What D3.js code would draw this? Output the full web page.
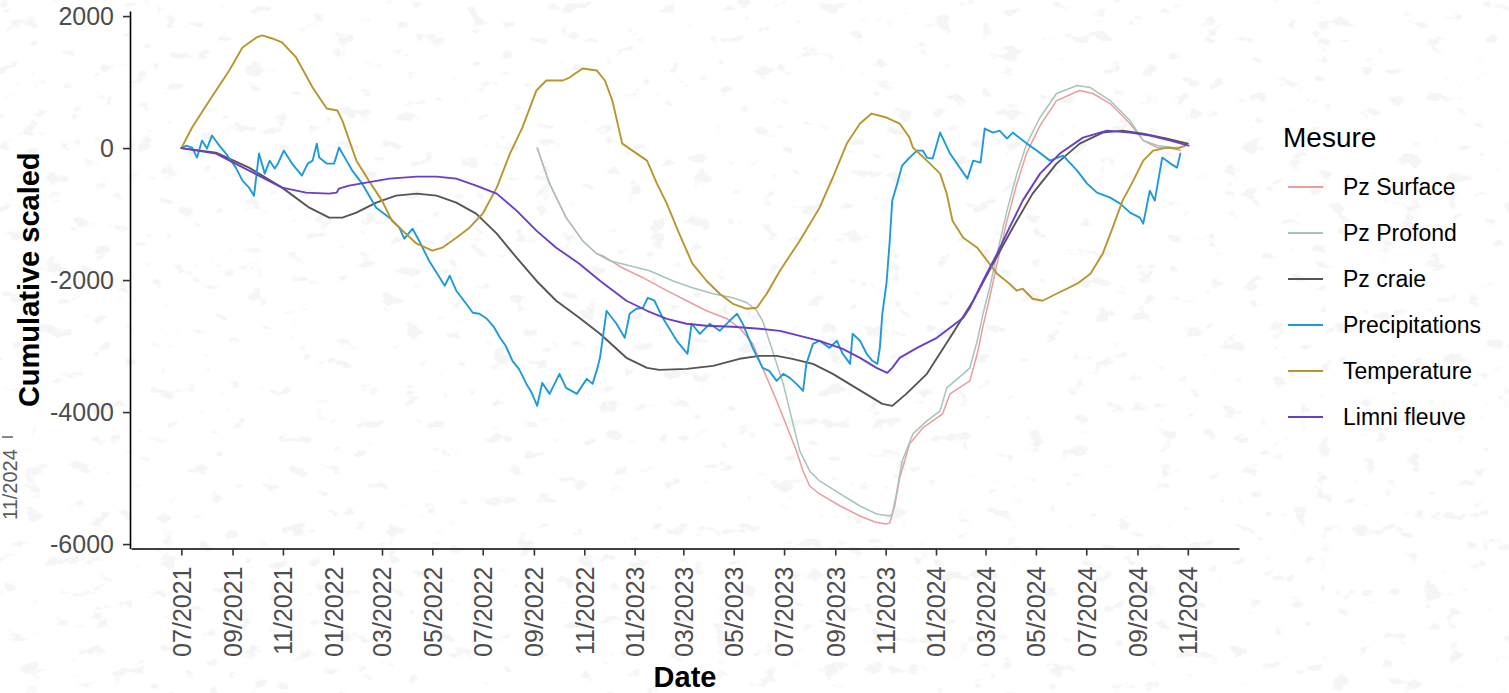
<!DOCTYPE html>
<html>
<head>
<meta charset="utf-8">
<script src="https://cdn.jsdelivr.net/npm/d3@7"></script>
<style>
  html, body { margin: 0; padding: 0; background: #ffffff; }
  svg { display: block; font-family: "Liberation Sans", Arial, Helvetica, sans-serif; }
</style>
</head>
<body>
<svg id="chart" width="1509" height="693"></svg>
<script>
// ---- Series (legend order = drawing order) ----
const seriesNames  = ["Pz Surface", "Pz Profond", "Pz craie", "Precipitations", "Temperature", "Limni fleuve"];
const seriesColors = ["#e99d9d", "#a5c4bc", "#555555", "#1f9ad9", "#b8962e", "#6a3fc6"];

// ---- Axis ticks ----
const xTickLabels = ["07/2021","09/2021","11/2021","01/2022","03/2022","05/2022","07/2022","09/2022",
  "11/2022","01/2023","03/2023","05/2023","07/2023","09/2023","11/2023","01/2024","03/2024",
  "05/2024","07/2024","09/2024","11/2024"];
const yTickValues = [2000, 0, -2000, -4000, -6000];

// ---- Cumulative scaled values, [date, value] ----
const pzSurface = [
  ["2022-09-05",0],["2022-09-20",-539],["2022-10-10",-1054],["2022-10-30",-1403],["2022-11-16",-1600],
  ["2022-11-23",-1631],["2022-12-17",-1813],["2023-01-11",-1964],["2023-02-09",-2161],["2023-03-05",-2313],
  ["2023-03-29",-2465],["2023-04-23",-2587],["2023-05-08",-2723],["2023-05-24",-2966],["2023-06-05",-3330],
  ["2023-06-22",-3830],["2023-07-08",-4331],["2023-07-16",-4589],["2023-07-24",-4892],["2023-08-01",-5120],
  ["2023-08-13",-5241],["2023-09-07",-5423],["2023-10-01",-5575],["2023-10-19",-5666],["2023-11-01",-5697],
  ["2023-11-06",-5681],["2023-11-12",-5423],["2023-11-18",-4998],["2023-11-30",-4482],["2023-12-16",-4240],
  ["2024-01-09",-4027],["2024-01-18",-3724],["2024-02-11",-3527],["2024-02-20",-3117],["2024-02-27",-2693],
  ["2024-03-06",-2268],["2024-03-15",-1752],["2024-03-27",-1100],["2024-04-08",-539],["2024-04-20",-68],
  ["2024-05-06",341],["2024-05-26",720],["2024-06-23",872],["2024-07-09",827],["2024-07-30",675],
  ["2024-08-23",372],["2024-09-08",114],["2024-09-25",8],["2024-10-14",-8],["2024-10-23",-38]
];

const pzProfond = [
  ["2022-09-05",0],["2022-09-20",-539],["2022-10-10",-1054],["2022-10-30",-1403],["2022-11-16",-1600],
  ["2022-12-02",-1707],["2022-12-26",-1782],["2023-01-19",-1858],["2023-02-16",-2010],["2023-03-12",-2116],
  ["2023-04-06",-2207],["2023-04-30",-2268],["2023-05-17",-2344],["2023-05-29",-2465],["2023-06-05",-2617],
  ["2023-06-17",-3072],["2023-06-30",-3573],["2023-07-11",-4134],["2023-07-20",-4589],["2023-08-01",-4892],
  ["2023-08-13",-5044],["2023-09-07",-5241],["2023-10-01",-5423],["2023-10-21",-5545],["2023-11-06",-5575],
  ["2023-11-09",-5545],["2023-11-14",-5241],["2023-11-21",-4740],["2023-12-04",-4331],["2023-12-21",-4134],
  ["2024-01-06",-3982],["2024-01-14",-3633],["2024-02-03",-3421],["2024-02-11",-3330],["2024-02-20",-2920],
  ["2024-02-27",-2511],["2024-03-06",-2116],["2024-03-15",-1600],["2024-03-27",-948],["2024-04-08",-387],
  ["2024-04-20",68],["2024-05-06",463],["2024-05-26",827],["2024-06-20",948],["2024-07-06",918],
  ["2024-07-30",720],["2024-08-23",417],["2024-09-08",114],["2024-09-25",38],["2024-10-14",8],["2024-10-23",8]
];

const pzCraie = [
  ["2021-07-01",0],["2021-08-12",-68],["2021-09-21",-296],["2021-10-31",-599],["2021-12-03",-903],
  ["2021-12-27",-1054],["2022-01-12",-1054],["2022-01-29",-978],["2022-02-22",-827],["2022-03-18",-721],
  ["2022-04-12",-690],["2022-05-06",-721],["2022-05-30",-827],["2022-06-23",-994],["2022-07-18",-1297],
  ["2022-08-11",-1661],["2022-09-04",-2010],["2022-09-28",-2313],["2022-10-26",-2572],["2022-11-20",-2814],
  ["2022-12-22",-3178],["2023-01-16",-3330],["2023-01-31",-3360],["2023-03-05",-3345],["2023-04-06",-3300],
  ["2023-05-08",-3193],["2023-06-01",-3148],["2023-06-22",-3148],["2023-07-11",-3193],["2023-08-05",-3269],
  ["2023-08-29",-3421],["2023-09-22",-3603],["2023-10-16",-3785],["2023-10-28",-3876],["2023-11-09",-3906],
  ["2023-11-26",-3724],["2023-12-21",-3421],["2024-01-21",-2814],["2024-02-15",-2313],["2024-03-10",-1752],
  ["2024-04-03",-1206],["2024-04-27",-690],["2024-05-26",-235],["2024-06-23",68],["2024-07-21",235],
  ["2024-08-14",265],["2024-09-08",220],["2024-10-07",144],["2024-11-01",68]
];

const precipitations = [
  ["2021-07-01",0],["2021-07-07",38],["2021-07-14",8],["2021-07-20",-144],["2021-07-26",114],
  ["2021-08-01",-8],["2021-08-07",190],["2021-08-16",38],["2021-08-24",-83],["2021-09-05",-296],
  ["2021-09-13",-493],["2021-09-21",-599],["2021-09-27",-721],["2021-10-03",-83],["2021-10-10",-387],
  ["2021-10-16",-190],["2021-10-22",-311],["2021-10-26",-235],["2021-11-02",-38],["2021-11-12",-235],
  ["2021-11-24",-417],["2021-12-01",-235],["2021-12-07",-190],["2021-12-12",68],["2021-12-15",-144],
  ["2021-12-24",-235],["2022-01-02",-235],["2022-01-08",8],["2022-01-17",-190],["2022-01-24",-341],
  ["2022-02-05",-539],["2022-02-22",-903],["2022-03-10",-1054],["2022-03-22",-1206],["2022-03-28",-1373],
  ["2022-04-07",-1221],["2022-04-15",-1403],["2022-04-27",-1707],["2022-05-10",-1964],["2022-05-16",-2086],
  ["2022-05-22",-1934],["2022-05-30",-2161],["2022-06-11",-2359],["2022-06-19",-2496],["2022-06-27",-2511],
  ["2022-07-06",-2587],["2022-07-14",-2700],["2022-07-22",-2875],["2022-07-29",-3000],["2022-08-06",-3223],
  ["2022-08-14",-3350],["2022-08-23",-3573],["2022-08-29",-3700],["2022-09-05",-3906],["2022-09-11",-3557],
  ["2022-09-20",-3724],["2022-10-02",-3421],["2022-10-10",-3633],["2022-10-23",-3724],["2022-11-04",-3497],
  ["2022-11-11",-3573],["2022-11-17",-3330],["2022-11-20",-3178],["2022-11-28",-2465],["2022-12-10",-2662],
  ["2022-12-20",-2875],["2022-12-26",-2511],["2023-01-03",-2435],["2023-01-11",-2420],["2023-01-17",-2268],
  ["2023-01-25",-2313],["2023-02-04",-2572],["2023-02-21",-2920],["2023-03-06",-3117],["2023-03-11",-2662],
  ["2023-03-21",-2814],["2023-04-02",-2662],["2023-04-14",-2769],["2023-04-26",-2617],["2023-05-05",-2511],
  ["2023-05-12",-2662],["2023-05-24",-3027],["2023-06-05",-3330],["2023-06-13",-3375],["2023-06-22",-3527],
  ["2023-06-30",-3421],["2023-07-08",-3482],["2023-07-16",-3573],["2023-07-24",-3679],["2023-07-28",-3269],
  ["2023-08-05",-2966],["2023-08-13",-2920],["2023-08-25",-3027],["2023-09-03",-2920],["2023-09-10",-3117],
  ["2023-09-19",-3269],["2023-09-22",-2814],["2023-10-01",-2920],["2023-10-09",-3117],["2023-10-16",-3223],
  ["2023-10-22",-3269],["2023-10-25",-3027],["2023-10-28",-2511],["2023-11-02",-2055],["2023-11-06",-1403],
  ["2023-11-09",-796],["2023-11-15",-539],["2023-11-21",-265],["2023-11-30",-144],["2023-12-09",-38],
  ["2023-12-16",-38],["2023-12-21",-144],["2023-12-28",-159],["2024-01-06",235],["2024-01-18",-83],
  ["2024-02-08",-463],["2024-02-15",-190],["2024-02-24",-220],["2024-02-29",296],["2024-03-10",235],
  ["2024-03-18",265],["2024-03-27",144],["2024-04-03",235],["2024-04-20",68],["2024-05-02",-38],
  ["2024-05-18",-190],["2024-06-03",-114],["2024-06-20",-341],["2024-07-02",-539],["2024-07-14",-675],
  ["2024-07-30",-751],["2024-08-11",-842],["2024-08-23",-978],["2024-09-04",-1054],["2024-09-08",-1145],
  ["2024-09-16",-645],["2024-09-22",-796],["2024-10-01",-144],["2024-10-11",-235],["2024-10-19",-296],
  ["2024-10-23",-83]
];

const temperature = [
  ["2021-07-01",0],["2021-07-14",311],["2021-08-04",720],["2021-08-28",1176],["2021-09-13",1525],
  ["2021-09-30",1676],["2021-10-07",1707],["2021-10-19",1661],["2021-10-31",1600],["2021-11-17",1373],
  ["2021-12-07",918],["2021-12-24",599],["2022-01-06",569],["2022-01-12",417],["2022-01-29",-190],
  ["2022-02-13",-493],["2022-03-01",-796],["2022-03-13",-1100],["2022-03-30",-1297],["2022-04-12",-1449],
  ["2022-05-01",-1555],["2022-05-13",-1509],["2022-05-30",-1358],["2022-06-15",-1206],["2022-07-01",-994],
  ["2022-07-18",-599],["2022-08-03",-83],["2022-08-18",311],["2022-09-04",872],["2022-09-16",1024],
  ["2022-10-06",1024],["2022-10-14",1069],["2022-10-30",1206],["2022-11-16",1176],["2022-11-26",1024],
  ["2022-12-05",720],["2022-12-17",68],["2023-01-16",-190],["2023-01-28",-539],["2023-02-09",-842],
  ["2023-02-24",-1297],["2023-03-12",-1752],["2023-03-29",-2010],["2023-04-14",-2207],["2023-04-30",-2359],
  ["2023-05-17",-2435],["2023-05-29",-2420],["2023-06-10",-2207],["2023-06-26",-1858],["2023-07-20",-1403],
  ["2023-08-13",-903],["2023-08-29",-447],["2023-09-15",68],["2023-10-01",372],["2023-10-15",523],
  ["2023-11-02",463],["2023-11-18",372],["2023-11-30",159],["2023-12-04",8],["2023-12-21",-190],
  ["2024-01-06",-387],["2024-01-14",-690],["2024-01-21",-1100],["2024-02-03",-1358],["2024-02-20",-1509],
  ["2024-03-03",-1707],["2024-03-15",-1904],["2024-03-30",-2055],["2024-04-08",-2161],["2024-04-15",-2131],
  ["2024-04-27",-2283],["2024-05-09",-2313],["2024-05-26",-2207],["2024-06-20",-2055],["2024-07-06",-1904],
  ["2024-07-21",-1600],["2024-08-02",-1206],["2024-08-14",-796],["2024-08-27",-493],["2024-09-08",-190],
  ["2024-09-20",-38],["2024-10-07",8],["2024-10-19",-8],["2024-10-29",38]
];

const limniFleuve = [
  ["2021-07-01",0],["2021-08-12",-83],["2021-09-21",-341],["2021-10-31",-599],["2021-11-29",-675],
  ["2021-12-27",-690],["2022-01-05",-675],["2022-01-08",-614],["2022-01-20",-569],["2022-02-10",-523],
  ["2022-03-10",-463],["2022-04-12",-432],["2022-05-06",-432],["2022-05-30",-463],["2022-06-23",-569],
  ["2022-07-18",-690],["2022-08-11",-948],["2022-09-04",-1251],["2022-09-28",-1509],["2022-10-26",-1752],
  ["2022-11-20",-2010],["2022-12-22",-2313],["2023-01-16",-2465],["2023-02-09",-2587],["2023-03-05",-2662],
  ["2023-03-29",-2693],["2023-04-30",-2708],["2023-06-01",-2738],["2023-06-26",-2769],["2023-07-20",-2845],
  ["2023-08-13",-2920],["2023-09-10",-3042],["2023-10-01",-3178],["2023-10-21",-3330],["2023-11-03",-3406],
  ["2023-11-09",-3330],["2023-11-18",-3178],["2023-12-09",-3027],["2024-01-02",-2875],["2024-01-18",-2723],
  ["2024-02-03",-2572],["2024-02-11",-2420],["2024-02-27",-2010],["2024-03-15",-1600],["2024-03-30",-1206],
  ["2024-04-15",-796],["2024-05-06",-387],["2024-05-30",-83],["2024-06-27",159],["2024-07-26",265],
  ["2024-08-23",235],["2024-09-16",190],["2024-10-11",114],["2024-11-02",38]
];

const seriesData = [pzSurface, pzProfond, pzCraie, precipitations, temperature, limniFleuve];

// ---- Layout ----
const W = 1509, H = 693;
const panel = { left: 131, right: 1239, top: 11, bottom: 548.5 };
const parseDate = d3.timeParse("%Y-%m-%d");
const parseTick = d3.timeParse("%m/%Y");
const fmtTick = d3.timeFormat("%m/%Y");

const series = seriesNames.map((name, i) => ({
  name, color: seriesColors[i],
  points: seriesData[i].map(([d, v]) => ({ date: parseDate(d), value: v }))
}));
const allPts = series.flatMap(s => s.points);

// ggplot-style 5% expansion of the data range
function expand(ext) { const pad = (ext[1] - ext[0]) * 0.05; return [ext[0] - pad, ext[1] + pad]; }
const xExt = d3.extent(allPts, p => +p.date);
const yExt = d3.extent(allPts, p => p.value);
const x = d3.scaleTime().domain(expand(xExt).map(t => new Date(t))).range([panel.left, panel.right]);
const y = d3.scaleLinear().domain(expand(yExt)).range([panel.bottom, panel.top]);

const svg = d3.select("#chart");

// Paper-like speckled backdrop
const defs = svg.append("defs");
const f = defs.append("filter").attr("id", "speckle")
  .attr("x", 0).attr("y", 0).attr("width", W).attr("height", H)
  .attr("filterUnits", "userSpaceOnUse");
f.append("feTurbulence").attr("type", "fractalNoise").attr("baseFrequency", "0.045 0.065")
  .attr("numOctaves", 3).attr("seed", 11).attr("result", "n");
f.append("feColorMatrix").attr("type", "matrix")
  .attr("values", "0 0 0 0 0.82  0 0 0 0 0.82  0 0 0 0 0.82  12 0 0 0 -7.9");
svg.append("rect").attr("width", W).attr("height", H).attr("fill", "#ffffff");
svg.append("rect").attr("width", W).attr("height", H).attr("filter", "url(#speckle)").attr("opacity", 0.45);

// Lines
const line = d3.line().x(p => x(p.date)).y(p => y(p.value)).curve(d3.curveLinear);
const gLines = svg.append("g");
series.forEach(s => {
  gLines.append("path").datum(s.points)
    .attr("fill", "none").attr("stroke", s.color)
    .attr("stroke-width", s.name === "Pz Surface" || s.name === "Pz Profond" ? 1.5 : 1.9)
    .attr("stroke-linejoin", "round").attr("stroke-linecap", "round")
    .attr("d", line);
});

// Y axis
const yAxis = svg.append("g").attr("transform", `translate(${panel.left - 1},0)`)
  .call(d3.axisLeft(y).tickValues(yTickValues).tickFormat(d => String(d)).tickSize(7).tickPadding(9).tickSizeOuter(0));
yAxis.select(".domain").attr("stroke", "#000").attr("stroke-width", 1.6);
yAxis.selectAll(".tick line").attr("stroke", "#333").attr("stroke-width", 1.6);
yAxis.selectAll(".tick text").attr("fill", "#4d4d4d").style("font-size", "25px")
  .style("font-family", '"Liberation Sans", Arial, sans-serif');

// X axis
const xTicks = xTickLabels.map(parseTick);
const xAxis = svg.append("g").attr("transform", `translate(0,${panel.bottom})`)
  .call(d3.axisBottom(x).tickValues(xTicks).tickFormat(fmtTick).tickSize(7).tickSizeOuter(0));
xAxis.select(".domain").attr("stroke", "#000").attr("stroke-width", 1.6);
xAxis.selectAll(".tick line").attr("stroke", "#333").attr("stroke-width", 1.6);
xAxis.selectAll(".tick text")
  .attr("fill", "#4d4d4d").style("font-size", "25px")
  .style("font-family", '"Liberation Sans", Arial, sans-serif')
  .attr("transform", "rotate(-90)")
  .attr("x", -18).attr("y", 0).attr("dy", "0.35em")
  .style("text-anchor", "end");

// Axis titles
svg.append("text")
  .attr("transform", `translate(39,${(panel.top + panel.bottom) / 2}) rotate(-90)`)
  .attr("text-anchor", "middle").attr("font-weight", "bold").attr("font-size", 29).attr("fill", "#000")
  .text("Cumulative scaled");
svg.append("text")
  .attr("x", (panel.left + panel.right) / 2).attr("y", 687)
  .attr("text-anchor", "middle").attr("font-weight", "bold").attr("font-size", 29).attr("fill", "#000")
  .text("Date");

// Stray rotated label at the left edge
svg.append("text")
  .attr("transform", "translate(17,520) rotate(-90)")
  .attr("text-anchor", "start").attr("font-size", 20).attr("fill", "#5a5a5a")
  .text("11/2024");
svg.append("line").attr("x1", 2).attr("x2", 13).attr("y1", 437).attr("y2", 437)
  .attr("stroke", "#555").attr("stroke-width", 1.4);

// Legend
const legend = svg.append("g").attr("transform", "translate(1283,0)");
legend.append("text").attr("x", 0).attr("y", 147).attr("font-size", 28).attr("fill", "#000").text("Mesure");
const item = legend.selectAll("g.item").data(series).join("g").attr("class", "item")
  .attr("transform", (d, i) => `translate(0,${187 + i * 46})`);
item.append("line").attr("x1", 5).attr("x2", 40).attr("y1", 0).attr("y2", 0)
  .attr("stroke", d => d.color).attr("stroke-width", 2);
item.append("text").attr("x", 60).attr("y", 0).attr("dy", "0.36em")
  .attr("font-size", 23).attr("fill", "#000").text(d => d.name);
</script>
</body>
</html>
